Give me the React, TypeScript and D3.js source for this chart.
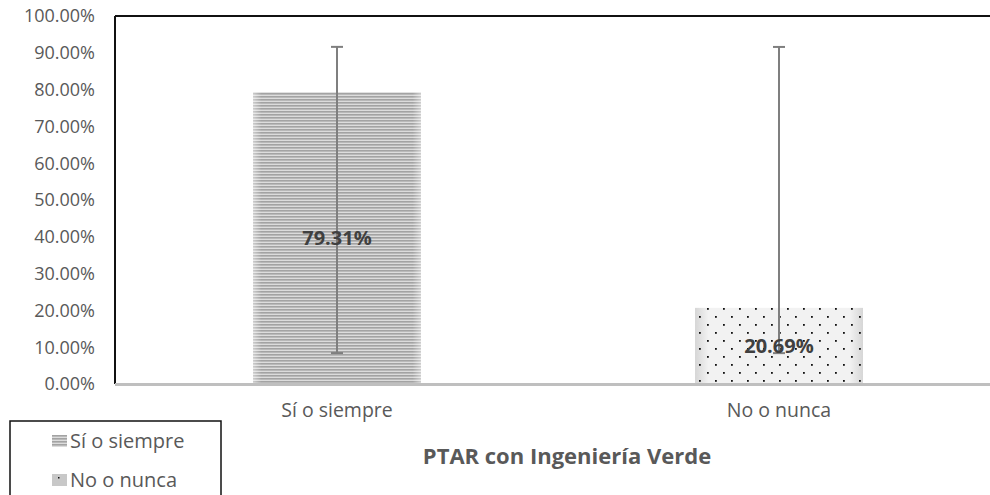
import { scaleBand, scaleLinear } from "d3";

const categories = ["Sí o siempre", "No o nunca"];
const values = [79.31, 20.69];
const errorUp = [12.3, 70.9];
const errorDown = [70.9, 12.3];
const yTicks = [0, 10, 20, 30, 40, 50, 60, 70, 80, 90, 100];
const axisTitle = "PTAR con Ingeniería Verde";

const W = 990;
const H = 495;
const font = "'Open Sans', 'Noto Sans', sans-serif";

export default function App() {
  const x = scaleBand().domain(categories).range([116, 1000]).padding(0);
  const y = scaleLinear().domain([0, 100]).range([384, 16]);
  const barW = x.bandwidth() * 0.38;

  return (
    <svg
      width={W}
      height={H}
      style={{ position: "absolute", left: 0, top: 0, background: "#fff" }}
    >
      <defs>
        <pattern id="stripes" width="4" height="3" patternUnits="userSpaceOnUse">
          <rect width="4" height="3" fill="#dcdcdc" />
          <rect width="4" height="1.6" fill="#a3a3a3" />
        </pattern>
        <linearGradient id="edgeGlow" x1="0" x2="1" y1="0" y2="0">
          <stop offset="0" stopColor="#fff" stopOpacity="0.45" />
          <stop offset="0.05" stopColor="#fff" stopOpacity="0" />
          <stop offset="0.95" stopColor="#fff" stopOpacity="0" />
          <stop offset="1" stopColor="#fff" stopOpacity="0.45" />
        </linearGradient>
        <linearGradient id="softGray" x1="0" x2="1" y1="0" y2="0">
          <stop offset="0" stopColor="#d6d6d6" />
          <stop offset="0.08" stopColor="#f2f2f2" />
          <stop offset="0.92" stopColor="#f2f2f2" />
          <stop offset="1" stopColor="#d6d6d6" />
        </linearGradient>
        <pattern id="dots" width="16" height="16" patternUnits="userSpaceOnUse">
          <rect x="3" y="4" width="1.8" height="1.8" fill="#111" />
          <rect x="11" y="12" width="1.8" height="1.8" fill="#111" />
        </pattern>
      </defs>

      {/* plot frame */}
      <line x1={115} x2={W} y1={16} y2={16} stroke="#111" strokeWidth={2} />
      <line x1={115} x2={115} y1={16} y2={384} stroke="#111" strokeWidth={2} />

      {/* y tick labels */}
      {yTicks.map((t) => (
        <text
          key={t}
          x={95}
          y={y(t)}
          dy="0.35em"
          textAnchor="end"
          fontFamily={font}
          fontSize={18}
          fill="#595959"
        >
          {t.toFixed(2)}%
        </text>
      ))}

      {/* bars */}
      {categories.map((c, i) => {
        const bx = x(c)! + (x.bandwidth() - barW) / 2;
        const top = y(values[i]);
        const h = y(0) - top;
        return (
          <g key={c}>
            {i === 0 ? (
              <>
                <rect x={bx} y={top} width={barW} height={h} fill="url(#stripes)" />
                <rect x={bx} y={top} width={barW} height={h} fill="url(#edgeGlow)" />
              </>
            ) : (
              <>
                <rect x={bx} y={top} width={barW} height={h} fill="url(#softGray)" />
                <rect x={bx} y={top} width={barW} height={h} fill="url(#dots)" />
              </>
            )}
          </g>
        );
      })}

      {/* x axis */}
      <line x1={115} x2={W} y1={384.5} y2={384.5} stroke="#bfbfbf" strokeWidth={3} />

      {/* error bars */}
      {categories.map((c, i) => {
        const cx = x(c)! + x.bandwidth() / 2;
        const yt = y(values[i] + errorUp[i]);
        const yb = y(values[i] - errorDown[i]);
        return (
          <g key={c} stroke="#7f7f7f" strokeWidth={2}>
            <line x1={cx} x2={cx} y1={yt} y2={yb} />
            <line x1={cx - 6} x2={cx + 6} y1={yt} y2={yt} />
            <line x1={cx - 6} x2={cx + 6} y1={yb} y2={yb} />
          </g>
        );
      })}

      {/* data labels */}
      {categories.map((c, i) => {
        const cx = x(c)! + x.bandwidth() / 2;
        const cy = (y(values[i]) + y(0)) / 2;
        return (
          <text
            key={c}
            x={cx}
            y={cy}
            dy="0.35em"
            textAnchor="middle"
            fontFamily={font}
            fontSize={20}
            fontWeight="bold"
            fill="#404040"
          >
            {values[i].toFixed(2)}%
          </text>
        );
      })}

      {/* category labels */}
      {categories.map((c) => (
        <text
          key={c}
          x={x(c)! + x.bandwidth() / 2}
          y={410}
          dy="0.35em"
          textAnchor="middle"
          fontFamily={font}
          fontSize={19.5}
          fill="#595959"
        >
          {c}
        </text>
      ))}

      {/* axis title */}
      <text
        x={567}
        y={456}
        dy="0.35em"
        textAnchor="middle"
        fontFamily={font}
        fontSize={22}
        fontWeight="bold"
        fill="#595959"
      >
        {axisTitle}
      </text>

      {/* legend */}
      <rect x={10} y={421} width={211} height={80} fill="#fff" stroke="#111" strokeWidth={1.5} />
      {categories.map((c, i) => {
        const ly = 441 + i * 39;
        return (
          <g key={c}>
            <rect
              x={52}
              y={ly - 6}
              width={15}
              height={12}
              fill={i === 0 ? "url(#stripes)" : "#c8c8c8"}
            />
            {i === 1 && <rect x={58} y={ly - 3} width={1.5} height={1.5} fill="#111" />}
            <text x={70} y={ly} dy="0.35em" fontFamily={font} fontSize={20} fill="#595959">
              {c}
            </text>
          </g>
        );
      })}
    </svg>
  );
}
